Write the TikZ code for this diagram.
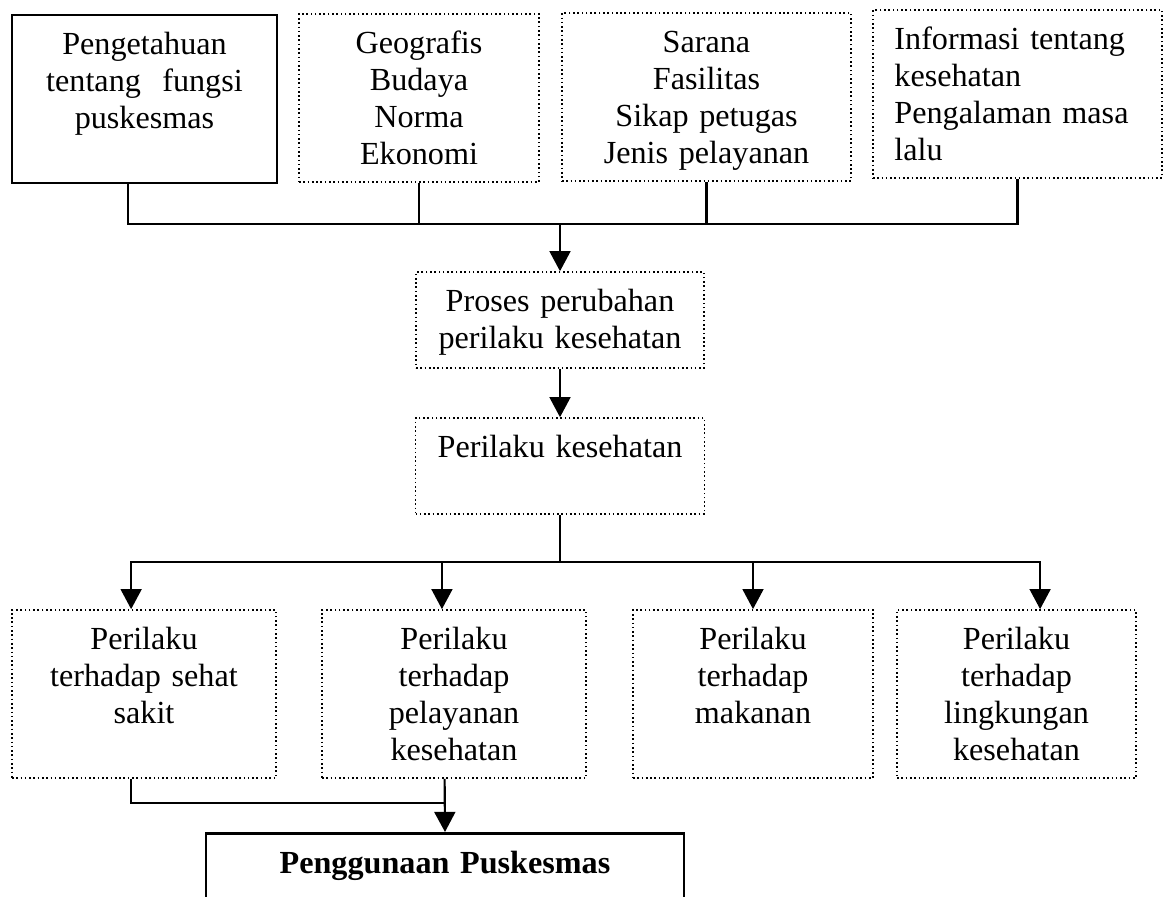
\documentclass[tikz,border=0pt]{standalone}
\usepackage{fontspec}
\setmainfont{Liberation Serif}
\usetikzlibrary{arrows.meta}

\begin{document}
\begin{tikzpicture}[
  x=0.373pt, y=-0.373pt,
  box/.style={draw, densely dotted, line width=0.6pt, align=center,
              font=\fontsize{12pt}{13.7pt}\selectfont,
              inner xsep=4pt, inner ysep=0pt, text height=14.9pt},
  solidbox/.style={box, solid, line width=1pt},
  high/.style={text depth=47.8pt},
  low/.style={text depth=20.9pt},
  link/.style={line width=0.8pt},
  flow/.style={link, -{Triangle[width=7.8pt, length=7.5pt]}},
]
\useasboundingbox (0,0) rectangle (1164,896);
\clip (0,0) rectangle (1164,896);

% factors
\node[solidbox, high, text width=90.8pt] (know) at (144.5, 99) {Pengetahuan\\tentang~ fungsi\\puskesmas};
\node[box, high, text width=81.5pt] (geo) at (419, 98) {Geografis\\Budaya\\Norma\\Ekonomi};
\node[box, high, text width=99.8pt] (sarana) at (706.5, 97) {Sarana\\Fasilitas\\Sikap petugas\\Jenis pelayanan};
\node[box, high, align=left, inner xsep=8pt, text width=91.8pt] (info) at (1017.5, 94) {Informasi tentang\\kesehatan\\Pengalaman masa\\lalu};

% process
\node[box, low, text width=99.4pt] (proses) at (560, 320) {Proses perubahan\\perilaku kesehatan};
\node[box, low, text width=99.8pt] (pk) at (560, 466) {Perilaku kesehatan};

% behaviours
\node[box, high, text width=90.5pt] (sehat) at (144, 694) {Perilaku\\terhadap sehat\\sakit};
\node[box, high, text width=90.5pt] (layan) at (454, 694) {Perilaku\\terhadap\\pelayanan\\kesehatan};
\node[box, high, text width=81.5pt] (makan) at (753, 694) {Perilaku\\terhadap\\makanan};
\node[box, high, text width=81.1pt] (ling) at (1016.5, 694) {Perilaku\\terhadap\\lingkungan\\kesehatan};

\node[solidbox, anchor=north, text depth=60pt, text width=170.3pt, font=\fontsize{12pt}{13.7pt}\selectfont\bfseries] (guna) at (445, 832) {Penggunaan Puskesmas};

% connectors
\coordinate (top) at (560, 224);
\draw[link] ([xshift=-6pt]know.south) |- (top);
\draw[link] (info.south) |- (top);
\draw[link] (geo.south) -- (geo.south |- top);
\draw[link] (sarana.south) -- (sarana.south |- top);
\draw[flow] (top) -- (proses);
\draw[flow] (proses) -- (pk);

\coordinate (split) at (560, 562);
\draw[link] (pk) -- (split);
\draw[flow] (split) -| ([xshift=-4.8pt]sehat.north);
\draw[flow] (split) -| ([xshift=-4.5pt]layan.north);
\draw[flow] (split) -| (makan.north);
\draw[flow] (split) -| ([xshift=8.8pt]ling.north);

\coordinate (merge) at (445, 803);
\draw[link] ([xshift=-4.8pt]sehat.south) |- (merge);
\draw[flow] ([xshift=-3.5pt]layan.south) -- (guna.north);

\end{tikzpicture}
\end{document}
